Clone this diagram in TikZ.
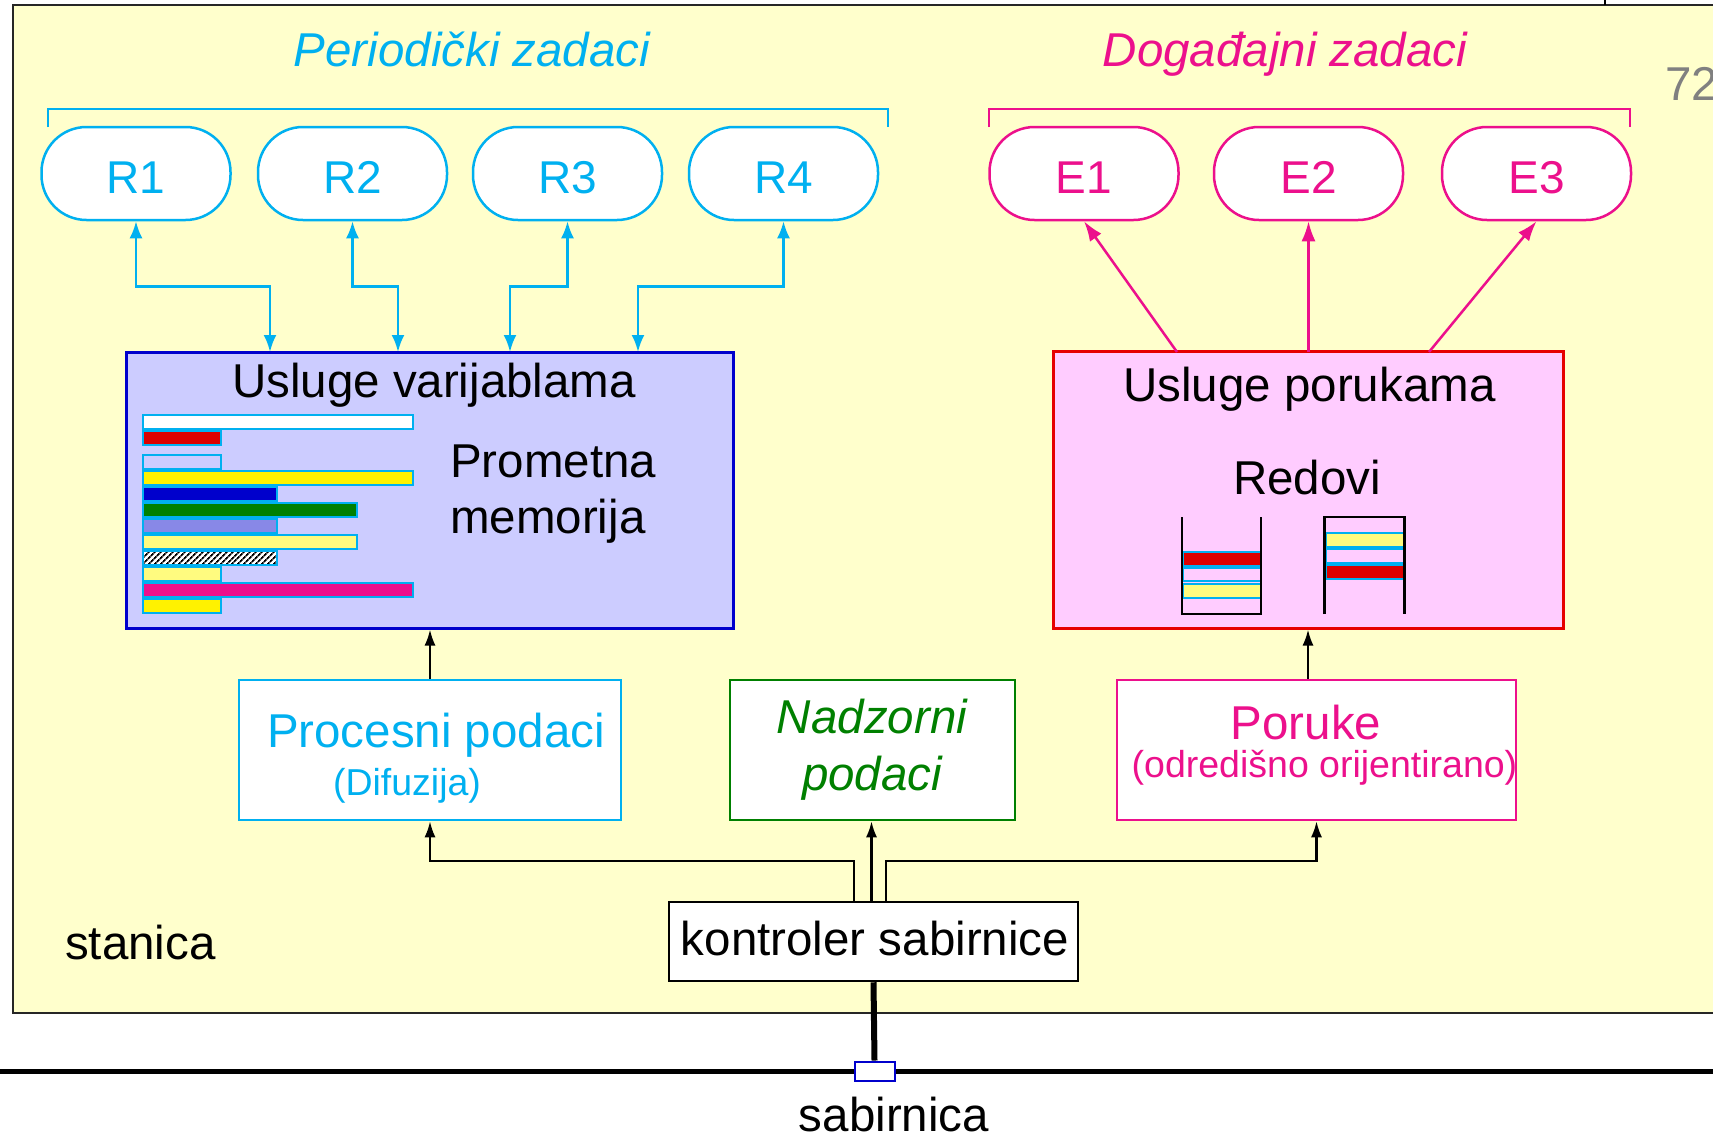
\documentclass[tikz,border=0pt]{standalone}
\usepackage{fontspec}
\setmainfont{Liberation Sans}
\usetikzlibrary{arrows.meta,patterns,patterns.meta}
\definecolor{cyanc}{RGB}{0,176,240}
\definecolor{magc}{RGB}{236,16,140}
\definecolor{bgy}{RGB}{255,255,204}
\definecolor{lav}{RGB}{204,204,255}
\definecolor{pinkc}{RGB}{255,204,255}
\definecolor{blueb}{RGB}{0,0,204}
\definecolor{redb}{RGB}{230,0,0}
\definecolor{redf}{RGB}{220,0,0}
\definecolor{greenc}{RGB}{0,128,0}
\definecolor{grayc}{RGB}{128,128,128}
\newcommand{\myBig}{\fontsize{47.5}{57}\selectfont}
\newcommand{\mySmall}{\fontsize{37.5}{45}\selectfont}
\newcommand{\myNode}{\fontsize{46}{55}\selectfont}
\begin{document}
\begin{tikzpicture}[x=1pt,y=-1pt,
  tasknode/.style={draw, fill=white, line width=2.5pt, rounded corners=45pt,
    minimum width=189pt, minimum height=93pt, inner sep=0pt, font=\myNode,
    text height=40pt, text depth=0pt},
  rtask/.style={tasknode, draw=cyanc, text=cyanc},
  etask/.style={tasknode, draw=magc, text=magc},
  bigbox/.style={line width=3pt, inner sep=0pt},
  lowbox/.style={fill=white, line width=2.5pt, minimum height=140pt, inner sep=0pt},
  txt/.style={font=\myBig, anchor=base, inner sep=0pt},
  stxt/.style={font=\mySmall, anchor=base, inner sep=0pt},
  bar/.style={draw=cyanc, line width=2pt},
  ydots/.style={bar, preaction={fill=yellow!35}, pattern={Dots[distance=2pt,radius=0.7pt]}, pattern color=yellow},
  bdots/.style={bar, preaction={fill=blueb!30}, pattern={Dots[distance=2pt,radius=0.7pt]}, pattern color=blueb},
  kstripes/.style={bar, preaction={fill=white}, pattern={Lines[angle=45,distance=4pt,line width=1.8pt]}, pattern color=black},
  carrow/.style={cyanc, line width=2.5pt, {Latex[length=17pt,width=13pt]}-{Latex[length=17pt,width=13pt]}},
  marrow/.style={magc, line width=2.5pt, -{Latex[length=20pt,width=14pt]}},
  karrow/.style={black, line width=2.2pt, -{Latex[length=16pt,width=11pt]}},
  queue/.style={black, line width=2.5pt}
]
\useasboundingbox (0,0) rectangle (1713,1138);
\clip (0,0) rectangle (1713,1138);
\fill[white] (0,0) rectangle (1713,1138);
% station frame
\draw[fill=bgy, line width=2.5pt, draw=black!85] (13,5) rectangle (1740,1013);
\draw[line width=2.5pt] (1605,0) -- (1605,5);

% titles
\node[txt, font=\myBig\itshape, text=cyanc] (tp) at (472,66) {Periodički zadaci};
\node[txt, font=\myBig\itshape, text=magc] (te) at (1285,66) {Događajni zadaci};
\node[txt, anchor=base west, text=grayc] (pg) at (1665,100) {72};

% brackets
\draw[cyanc, line width=2.5pt] (48,127) -- (48,109) -- (888,109) -- (888,127);
\draw[magc, line width=2pt] (989,127) -- (989,109) -- (1630,109) -- (1630,127);

% tasks
\node[rtask] (R1) at (136,173.5) {R1};
\node[rtask] (R2) at (352.5,173.5) {R2};
\node[rtask] (R3) at (567.5,173.5) {R3};
\node[rtask] (R4) at (783.5,173.5) {R4};
\node[etask] (E1) at (1084,173.5) {E1};
\node[etask] (E2) at (1308.5,173.5) {E2};
\node[etask] (E3) at (1536.5,173.5) {E3};

% service boxes
\node[bigbox, draw=blueb, fill=lav, minimum width=607pt, minimum height=276pt] (V) at (429.5,490) {};
\node[bigbox, draw=redb, fill=pinkc, minimum width=510pt, minimum height=277pt] (P) at (1308,489.5) {};
\node[txt] (vt) at (434,397) {Usluge varijablama};
\node[txt, anchor=base west] (pm1) at (450,477) {Prometna};
\node[txt, anchor=base west] (pm2) at (450,533) {memorija};
\node[txt] (pt) at (1309.5,401.5) {Usluge porukama};
\node[txt] (rd) at (1307,494) {Redovi};

% memory bars
\draw[bar, fill=white] (142.5,415) rectangle (412.6,429);
\draw[bar, fill=redf] (142.5,431) rectangle (220.8,445);
\draw[bar] (142.5,455) rectangle (220.8,469);
\draw[bar, fill=yellow] (142.5,470.5) rectangle (412.6,484.5);
\draw[bar, fill=blueb] (142.5,487) rectangle (276.6,501);
\draw[bar, fill=greenc] (142.5,503) rectangle (356.8,517);
\draw[bdots] (142.5,519) rectangle (276.6,533);
\draw[ydots] (142.5,535) rectangle (356.8,549);
\draw[kstripes] (142.5,551) rectangle (276.6,565);
\draw[ydots] (142.5,567) rectangle (220.8,581);
\draw[bar, fill=magc] (142.5,583) rectangle (412.6,597);
\draw[bar, fill=yellow] (142.5,599) rectangle (220.8,613);

% queues
\draw[bar, fill=redf] (1183,552) rectangle (1261,566);
\draw[bar] (1183,568) rectangle (1261,581);
\draw[ydots] (1183,584) rectangle (1261,598);
\draw[queue] (1182,517) -- (1182,614) -- (1261,614) -- (1261,517);
\draw[ydots] (1326,533) rectangle (1404,547);
\draw[bar] (1326,549) rectangle (1404,563);
\draw[bar, fill=redf] (1326,565) rectangle (1404,579);
\draw[queue] (1324.5,614) -- (1324.5,517) -- (1404.5,517) -- (1404.5,614);

% lower boxes
\node[lowbox, draw=cyanc, minimum width=382pt] (A) at (430,750) {};
\node[lowbox, draw=greenc, minimum width=285pt] (B) at (872.5,750) {};
\node[lowbox, draw=magc, minimum width=399pt] (C) at (1316.5,750) {};
\node[txt, text=cyanc] (at1) at (436,747.5) {Procesni podaci};
\node[stxt, text=cyanc] (at2) at (407,795) {(Difuzija)};
\node[txt, font=\myBig\itshape, text=greenc] (bt1) at (872,733.5) {Nadzorni};
\node[txt, font=\myBig\itshape, text=greenc] (bt2) at (872,790) {podaci};
\node[txt, text=magc] (ct1) at (1306,739) {Poruke};
\node[stxt, text=magc] (ct2) at (1324.5,777) {(odredišno orijentirano)};

% bus controller and bus
\node[draw, fill=white, line width=2.5pt, minimum width=409pt, minimum height=79pt, inner sep=0pt] (K) at (873.5,941.5) {};
\node[txt] (kt) at (875,955) {kontroler sabirnice};
\coordinate (busL) at (0,1071);
\coordinate (busR) at (1713,1071);
\draw[line width=5pt] (busL) -- (busR);
\node[draw=blueb, fill=white, line width=2pt, minimum width=40pt, minimum height=19pt, inner sep=0pt] (S) at (874.5,1071) {};
\draw[line width=6pt] (K.south) -- (S.north);
\node[txt] (sb) at (894,1131) {sabirnica};
\node[txt, anchor=base west] (st) at (65,959) {stanica};

% cyan connectors
\coordinate (v1) at (270,352);
\coordinate (v2) at (398,352);
\coordinate (v3) at (510,352);
\coordinate (v4) at (638,352);
\draw[carrow] (R1.south) -- ++(0,65) -| (v1);
\draw[carrow] (R2.south) -- ++(0,65) -| (v2);
\draw[carrow] (R3.south) -- ++(0,65) -| (v3);
\draw[carrow] (R4.south) -- ++(0,65) -| (v4);

% magenta connectors
\coordinate (p1) at (1177,352);
\coordinate (p2) at (1308.5,352);
\coordinate (p3) at (1429,352);
\draw[marrow] (p1) -- (E1.south);
\draw[marrow] (p2) -- (E2.south);
\draw[marrow] (p3) -- (E3.south);

% black connectors
\draw[karrow] (A.north) -- (A.north |- V.south);
\draw[karrow] (C.north -| P.south) -- (P.south);
\coordinate (k1) at (854,902);
\coordinate (k2) at (871.5,902);
\coordinate (k3) at (886,902);
\draw[karrow] (k1) -- ++(0,-41) -| (A.south);
\draw[karrow] (k2) -- (k2 |- B.south);
\draw[karrow] (k3) -- ++(0,-41) -| (C.south);
\end{tikzpicture}
\end{document}
